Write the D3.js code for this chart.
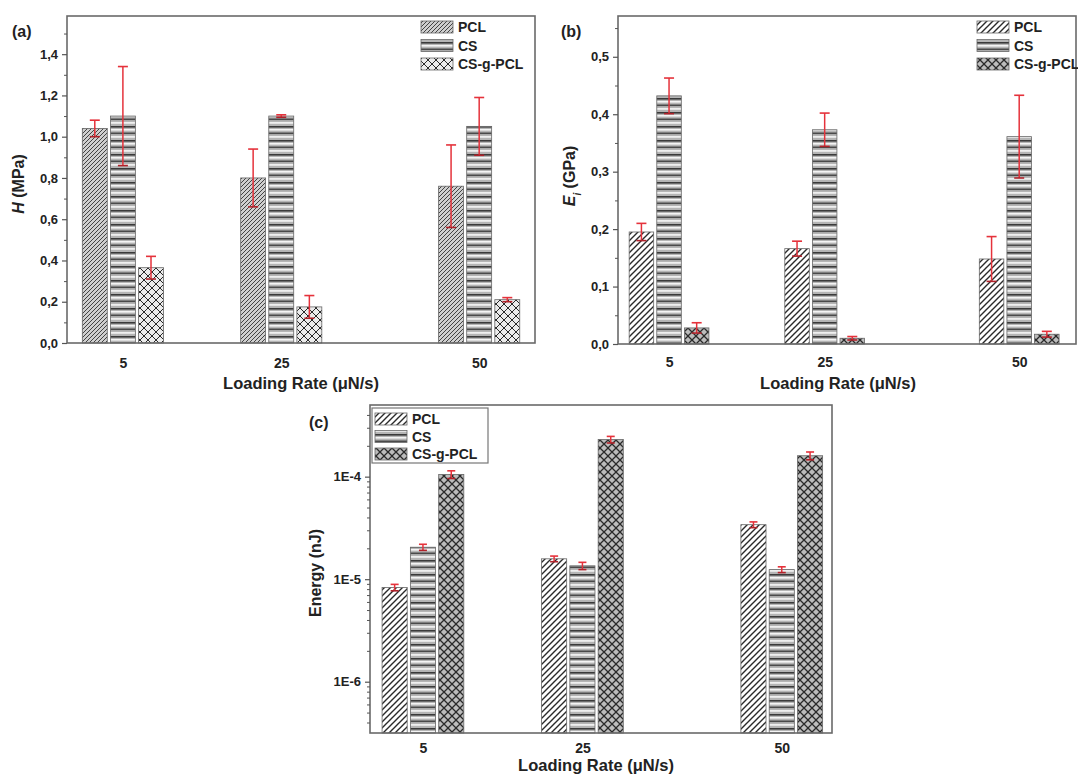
<!DOCTYPE html>
<html>
<head>
<meta charset="utf-8">
<script src="https://cdn.jsdelivr.net/npm/d3@7"></script>
<style>
  html, body { margin: 0; padding: 0; background: #fff; }
  svg { display: block; font-family: "Liberation Sans", Arial, sans-serif; }
  text { font-weight: bold; fill: #222; }
</style>
</head>
<body>
<svg id="chart" width="1078" height="776"></svg>
<script>
// ---------------- DATA ----------------
const loadingRates = [5, 25, 50];
const seriesNames = ["PCL", "CS", "CS-g-PCL"];

// (a) Hardness H (MPa)
const hardnessPCL = [1.04, 0.80, 0.76];
const hardnessPCLErr = [0.04, 0.14, 0.20];
const hardnessCS = [1.10, 1.10, 1.05];
const hardnessCSErr = [0.24, 0.006, 0.14];
const hardnessCSgPCL = [0.365, 0.175, 0.21];
const hardnessCSgPCLErr = [0.055, 0.055, 0.01];
const hardnessTicks = [0, 0.2, 0.4, 0.6, 0.8, 1.0, 1.2, 1.4];
const hardnessMinorTicks = [0.1, 0.3, 0.5, 0.7, 0.9, 1.1, 1.3, 1.5];

// (b) Modulus Ei (GPa)
const modulusPCL = [0.195, 0.166, 0.148];
const modulusPCLErr = [0.015, 0.013, 0.039];
const modulusCS = [0.432, 0.373, 0.361];
const modulusCSErr = [0.031, 0.029, 0.072];
const modulusCSgPCL = [0.028, 0.010, 0.017];
const modulusCSgPCLErr = [0.009, 0.003, 0.005];
const modulusTicks = [0, 0.1, 0.2, 0.3, 0.4, 0.5];
const modulusMinorTicks = [0.05, 0.15, 0.25, 0.35, 0.45, 0.55];

// (c) Energy (nJ), log scale
const energyPCL = [8.3e-6, 1.58e-5, 3.4e-5];
const energyPCLErr = [0.6e-6, 1.0e-6, 2.2e-6];
const energyCS = [2.05e-5, 1.35e-5, 1.24e-5];
const energyCSErr = [1.4e-6, 1.1e-6, 0.8e-6];
const energyCSgPCL = [1.05e-4, 2.3e-4, 1.6e-4];
const energyCSgPCLErr = [0.09e-4, 0.17e-4, 0.14e-4];
const energyTicks = [1e-6, 1e-5, 1e-4];
const energyTickLabels = ["1E-6", "1E-5", "1E-4"];

// ---------------- DRAWING ----------------
const svg = d3.select("#chart");
svg.append("rect").attr("width", 1078).attr("height", 776).attr("fill", "#fff");
const defs = svg.append("defs");

function makeDiag(id, size, bg, sw, col) {
  const p = defs.append("pattern").attr("id", id).attr("patternUnits", "userSpaceOnUse")
    .attr("width", size).attr("height", size);
  p.append("rect").attr("width", size).attr("height", size).attr("fill", bg);
  p.append("path").attr("d", `M0,${size} L${size},0 M${-size/2},${size/2} L${size/2},${-size/2} M${size/2},${size*1.5} L${size*1.5},${size/2}`)
    .attr("stroke", col).attr("stroke-width", sw);
}
function makeHoriz(id) {
  const p = defs.append("pattern").attr("id", id).attr("patternUnits", "userSpaceOnUse")
    .attr("width", 10).attr("height", 14);
  p.append("rect").attr("width", 10).attr("height", 14).attr("fill", "#b5b5b5");
  p.append("rect").attr("y", 0).attr("width", 10).attr("height", 1.6).attr("fill", "#3a3a3a");
  p.append("rect").attr("y", 3).attr("width", 10).attr("height", 1.6).attr("fill", "#f4f4f4");
  p.append("rect").attr("y", 6.5).attr("width", 10).attr("height", 1.6).attr("fill", "#4a4a4a");
  p.append("rect").attr("y", 10).attr("width", 10).attr("height", 1.8).attr("fill", "#efefef");
}
function makeCross(id, size, bg, sw) {
  const p = defs.append("pattern").attr("id", id).attr("patternUnits", "userSpaceOnUse")
    .attr("width", size).attr("height", size);
  p.append("rect").attr("width", size).attr("height", size).attr("fill", bg);
  p.append("path").attr("d", `M0,0 L${size},${size} M0,${size} L${size},0`)
    .attr("stroke", "#2a2a2a").attr("stroke-width", sw);
}
makeDiag("pclA", 4, "#cfcfcf", 0.9, "#333");
makeDiag("pclB", 6, "#ffffff", 1.4, "#2a2a2a");
makeHoriz("cs");
makeCross("cgpA", 8, "#ececec", 1.0);
makeCross("cgpC", 8, "#bcbcbc", 1.3);

const errColor = "#e5323b";

function drawPanel(cfg) {
  const g = svg.append("g");
  const x = d3.scaleLinear().domain(cfg.xDomain).range([cfg.left, cfg.right]);
  const y = cfg.log
    ? d3.scaleLog().domain(cfg.yDomain).range([cfg.bottom, cfg.top])
    : d3.scaleLinear().domain(cfg.yDomain).range([cfg.bottom, cfg.top]);

  const offsets = [-3.55, 0, 3.55];
  const bw = x(3.15) - x(0);
  const series = cfg.series;

  series.forEach((s, si) => {
    const rows = loadingRates.map((r, i) => ({r, v: s.values[i], e: s.errs[i]}));
    g.selectAll(null).data(rows).enter().append("rect")
      .attr("x", d => x(d.r + offsets[si]) - bw / 2)
      .attr("y", d => y(d.v))
      .attr("width", bw)
      .attr("height", d => cfg.bottom - y(d.v))
      .attr("fill", `url(#${s.fill})`)
      .attr("stroke", "#666").attr("stroke-width", 0.8);
    const eg = g.selectAll(null).data(rows).enter().append("g");
    const cap = cfg.cap;
    eg.append("line").attr("x1", d => x(d.r + offsets[si])).attr("x2", d => x(d.r + offsets[si]))
      .attr("y1", d => y(d.v + d.e)).attr("y2", d => y(d.v - d.e))
      .attr("stroke", errColor).attr("stroke-width", 1.5);
    eg.append("line").attr("x1", d => x(d.r + offsets[si]) - cap).attr("x2", d => x(d.r + offsets[si]) + cap)
      .attr("y1", d => y(d.v + d.e)).attr("y2", d => y(d.v + d.e))
      .attr("stroke", errColor).attr("stroke-width", 1.6);
    eg.append("line").attr("x1", d => x(d.r + offsets[si]) - cap).attr("x2", d => x(d.r + offsets[si]) + cap)
      .attr("y1", d => y(d.v - d.e)).attr("y2", d => y(d.v - d.e))
      .attr("stroke", "#b0222a").attr("stroke-width", 1.6);
  });

  // frame
  g.append("rect").attr("x", cfg.left).attr("y", cfg.top)
    .attr("width", cfg.right - cfg.left).attr("height", cfg.bottom - cfg.top)
    .attr("fill", "none").attr("stroke", "#6a6a6a").attr("stroke-width", 1.6);

  // y axis major
  const yAxis = d3.axisLeft(y).tickValues(cfg.yTicks).tickSize(5).tickPadding(4)
    .tickFormat((d, i) => cfg.yFormat(d, i));
  const ya = g.append("g").attr("transform", `translate(${cfg.left},0)`).call(yAxis);
  ya.select(".domain").remove();
  ya.selectAll("line").attr("stroke", "#555").attr("stroke-width", 1.2);
  ya.selectAll("text").attr("font-size", 13).attr("font-weight", "bold").attr("fill", "#333")
    .attr("font-family", "Liberation Sans, Arial, sans-serif");
  // minor
  const ym = g.append("g").attr("transform", `translate(${cfg.left},0)`)
    .call(d3.axisLeft(y).tickValues(cfg.yMinor).tickSize(3).tickFormat(""));
  ym.select(".domain").remove();
  ym.selectAll("line").attr("stroke", "#555").attr("stroke-width", 1);

  // x axis labels
  const xAxis = d3.axisBottom(x).tickValues(loadingRates).tickSize(0).tickPadding(cfg.xPad)
    .tickFormat(d3.format("d"));
  const xa = g.append("g").attr("transform", `translate(0,${cfg.bottom})`).call(xAxis);
  xa.select(".domain").remove();
  xa.selectAll("text").attr("font-size", 14).attr("font-weight", "bold").attr("fill", "#333")
    .attr("font-family", "Liberation Sans, Arial, sans-serif");

  // titles
  g.append("text").attr("x", cfg.xTitle[0]).attr("y", cfg.xTitle[1]).attr("text-anchor", "middle")
    .attr("font-size", 16.5).text("Loading Rate (μN/s)");
  const yt = g.append("text").attr("transform", `translate(${cfg.yTitle[0]},${cfg.yTitle[1]}) rotate(-90)`)
    .attr("text-anchor", "middle").attr("font-size", 16);
  cfg.yTitleParts.forEach(p => {
    const t = yt.append("tspan").text(p.t);
    if (p.italic) t.attr("font-style", "italic");
    if (p.sub) t.attr("baseline-shift", "sub").attr("font-size", 10);
  });
  g.append("text").attr("x", cfg.label[0]).attr("y", cfg.label[1]).attr("font-size", 16).text(cfg.labelText);

  // legend
  const lg = g.append("g");
  if (cfg.legendBox) {
    lg.append("rect").attr("x", cfg.legendBox[0]).attr("y", cfg.legendBox[1])
      .attr("width", cfg.legendBox[2]).attr("height", cfg.legendBox[3])
      .attr("fill", "#fff").attr("stroke", "#777").attr("stroke-width", 1.2);
  }
  series.forEach((s, si) => {
    const yy = cfg.legend[1] + si * cfg.legendStep;
    lg.append("rect").attr("x", cfg.legend[0]).attr("y", yy - 6).attr("width", 32).attr("height", 12)
      .attr("fill", `url(#${s.fill})`).attr("stroke", "#666").attr("stroke-width", 0.8);
    lg.append("text").attr("x", cfg.legend[0] + 37).attr("y", yy + 5).attr("font-size", 14)
      .text(seriesNames[si]);
  });
}

const commaFmt = d => d3.format(".1f")(d).replace(".", ",");

drawPanel({
  left: 67, right: 535, top: 16, bottom: 343,
  xDomain: [-2.06, 57.05], yDomain: [0, 1.585],
  yTicks: hardnessTicks, yMinor: hardnessMinorTicks, yFormat: commaFmt,
  series: [
    {values: hardnessPCL, errs: hardnessPCLErr, fill: "pclA"},
    {values: hardnessCS, errs: hardnessCSErr, fill: "cs"},
    {values: hardnessCSgPCL, errs: hardnessCSgPCLErr, fill: "cgpA"}
  ],
  cap: 5, xPad: 15,
  xTitle: [301, 389], yTitle: [24, 184],
  yTitleParts: [{t: "H", italic: true}, {t: " (MPa)"}],
  label: [12, 37], labelText: "(a)",
  legend: [421, 27], legendStep: 18.5
});

drawPanel({
  left: 618, right: 1076, top: 16, bottom: 344,
  xDomain: [-1.56, 57.3], yDomain: [0, 0.571],
  yTicks: modulusTicks, yMinor: modulusMinorTicks, yFormat: commaFmt,
  series: [
    {values: modulusPCL, errs: modulusPCLErr, fill: "pclB"},
    {values: modulusCS, errs: modulusCSErr, fill: "cs"},
    {values: modulusCSgPCL, errs: modulusCSgPCLErr, fill: "cgpC"}
  ],
  cap: 5, xPad: 13,
  xTitle: [838, 389], yTitle: [575, 176],
  yTitleParts: [{t: "E", italic: true}, {t: "i", italic: true, sub: true}, {t: " (GPa)"}],
  label: [561, 37], labelText: "(b)",
  legend: [977, 27], legendStep: 18.5
});

const energyMinor = [];
[1e-7, 1e-6, 1e-5, 1e-4].forEach(dec => { for (let k = 2; k <= 9; k++) energyMinor.push(dec * k); });

drawPanel({
  left: 370, right: 832, top: 405, bottom: 733, log: true,
  xDomain: [-1.64, 56.3], yDomain: [3.16e-7, 5.0e-4],
  yTicks: energyTicks, yMinor: energyMinor.filter(v => v > 3.16e-7 && v < 5.0e-4),
  yFormat: (d) => energyTickLabels[energyTicks.indexOf(d)],
  series: [
    {values: energyPCL, errs: energyPCLErr, fill: "pclB"},
    {values: energyCS, errs: energyCSErr, fill: "cs"},
    {values: energyCSgPCL, errs: energyCSgPCLErr, fill: "cgpC"}
  ],
  cap: 4, xPad: 10,
  xTitle: [596, 771], yTitle: [321, 573],
  yTitleParts: [{t: "Energy (nJ)"}],
  label: [309, 428], labelText: "(c)",
  legend: [375, 419], legendStep: 17.5,
  legendBox: [372, 408, 116, 55]
});
</script>
</body>
</html>
